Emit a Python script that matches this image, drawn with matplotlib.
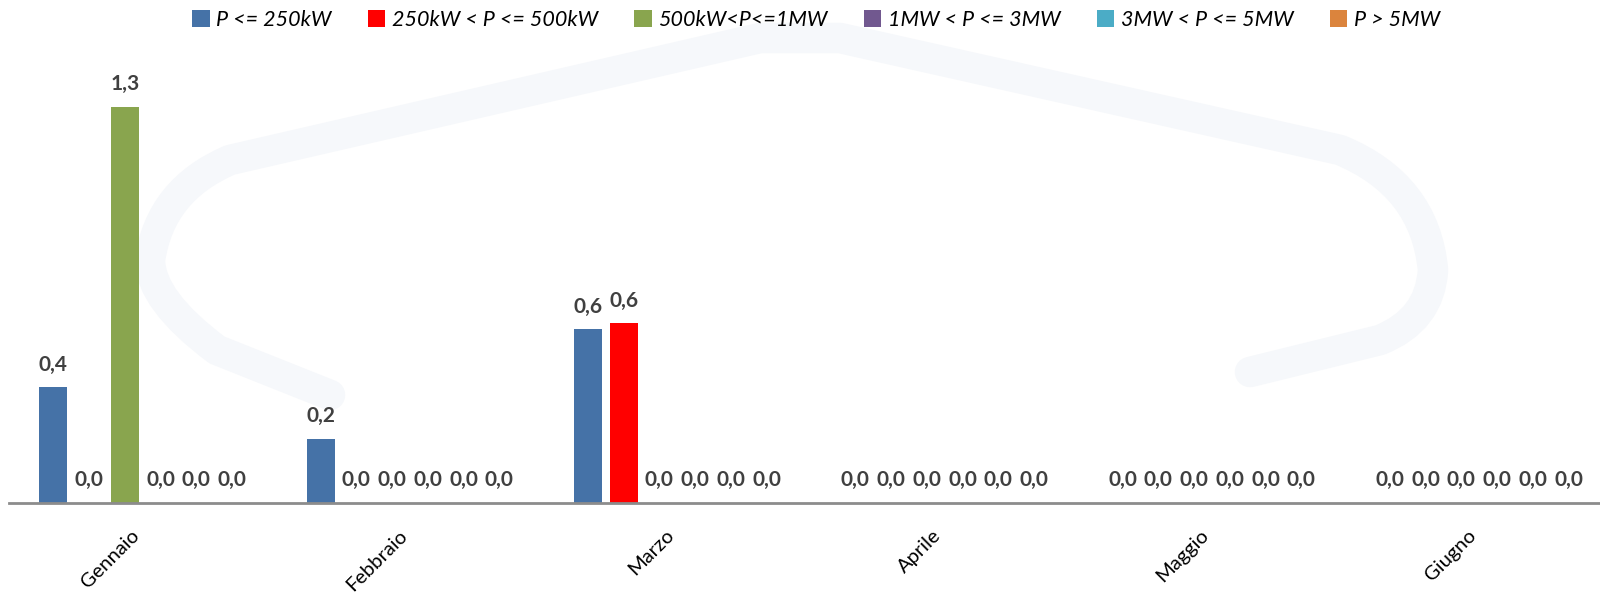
import matplotlib
matplotlib.use("Agg")
import matplotlib.pyplot as plt
from matplotlib.patches import Patch, PathPatch
from matplotlib.path import Path
import numpy as np

# data
months = ["Gennaio", "Febbraio", "Marzo", "Aprile", "Maggio", "Giugno"]
series = ["P <= 250kW", "250kW < P <= 500kW", "500kW<P<=1MW",
          "1MW < P <= 3MW", "3MW < P <= 5MW", "P > 5MW"]
colors = ["#4572A7", "#FF0000", "#89A54E", "#71588F", "#4BACC6", "#DB843D"]

p_250 = [0.38, 0.21, 0.57, 0.0, 0.0, 0.0]
p_500 = [0.0, 0.0, 0.59, 0.0, 0.0, 0.0]
p_1mw = [1.30, 0.0, 0.0, 0.0, 0.0, 0.0]
p_3mw = [0.0, 0.0, 0.0, 0.0, 0.0, 0.0]
p_5mw = [0.0, 0.0, 0.0, 0.0, 0.0, 0.0]
p_big = [0.0, 0.0, 0.0, 0.0, 0.0, 0.0]
values = [p_250, p_500, p_1mw, p_3mw, p_5mw, p_big]

W, H = 1600, 593
fig = plt.figure(figsize=(16, 5.93), dpi=100)

# very faint logo outline in the background
pts = [(330, 395), (217, 350), (150, 300), (150, 260), (160, 190), (230, 160),
       (760, 38), (840, 38), (1340, 150), (1425, 185), (1433, 270),
       (1430, 320), (1380, 340), (1250, 372)]
codes = [Path.MOVETO, Path.LINETO, Path.CURVE3, Path.CURVE3, Path.CURVE3,
         Path.CURVE3, Path.LINETO, Path.LINETO, Path.LINETO, Path.CURVE3,
         Path.CURVE3, Path.CURVE3, Path.CURVE3, Path.LINETO]
verts = [(px / W, 1 - py / H) for px, py in pts]
fig.add_artist(PathPatch(Path(verts, codes), transform=fig.transFigure,
                         facecolor="none", edgecolor="#f6f8fb", lw=22,
                         joinstyle="round", capstyle="round", zorder=0))

ax = fig.add_axes([9 / W, 90 / H, (W - 9) / W, 457 / H])
ax.patch.set_alpha(0)

x = np.arange(len(months))
slot = 0.1338
bw = 0.105
for i, (vals, col) in enumerate(zip(values, colors)):
    xs = x + (i - 2.5) * slot
    ax.bar(xs, vals, width=bw, color=col, zorder=2)
    for xi, v in zip(xs, vals):
        ax.annotate(f"{v:.1f}".replace(".", ","), (xi, v), xytext=(0, 12),
                    textcoords="offset points", ha="center", va="baseline",
                    fontsize=15, fontweight="bold", color="#404040",
                    family="Lato", zorder=3)

ax.set_xlim(-0.5, 5.452)
ax.set_ylim(0, 1.5)
ax.set_yticks([])
ax.set_xticks(x)
ax.set_xticklabels(months, rotation=45, ha="right", va="top",
                   fontsize=14.5, family="Lato")
ax.tick_params(axis="x", length=0, pad=17)
for s in ["top", "right", "left"]:
    ax.spines[s].set_visible(False)
ax.spines["bottom"].set_color("#8c8c8c")
ax.spines["bottom"].set_linewidth(2)

handles = [Patch(facecolor=c, label=l) for c, l in zip(colors, series)]
fig.legend(handles=handles, loc="center", bbox_to_anchor=(0.51, 1 - 20 / H),
           ncol=6, frameon=False, handlelength=0.8, handleheight=0.8,
           handletextpad=0.3, columnspacing=1.7,
           prop={"family": "Lato", "style": "italic", "size": 15.5})

fig.savefig("out.png", dpi=100)
